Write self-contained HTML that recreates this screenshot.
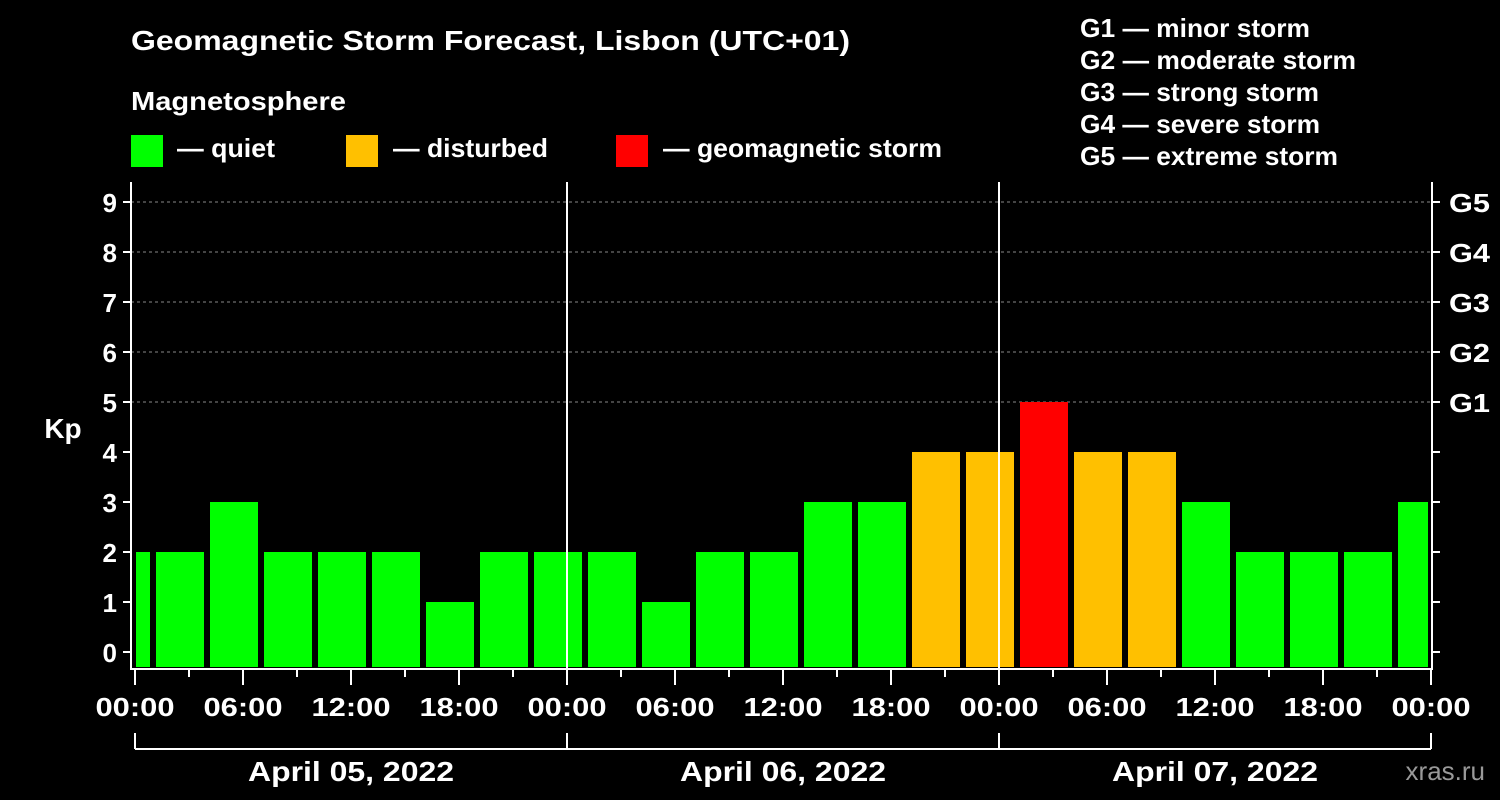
<!DOCTYPE html>
<html><head><meta charset="utf-8"><style>
html,body{margin:0;padding:0;background:#000;}
svg{display:block;font-family:"Liberation Sans",sans-serif;font-weight:bold;}
</style></head><body>
<svg width="1500" height="800" viewBox="0 0 1500 800">
<rect width="1500" height="800" fill="#000"/>
<text x="131" y="50" fill="#fff" font-size="28" textLength="719" lengthAdjust="spacingAndGlyphs">Geomagnetic Storm Forecast, Lisbon (UTC+01)</text>
<text x="131" y="110" fill="#fff" font-size="26" textLength="215" lengthAdjust="spacingAndGlyphs">Magnetosphere</text>
<g><rect x="131" y="135" width="32" height="32" fill="#00ff00"/><text x="177" y="157" fill="#fff" font-size="26" textLength="98" lengthAdjust="spacingAndGlyphs">— quiet</text></g>
<g><rect x="346" y="135" width="32" height="32" fill="#ffc000"/><text x="393" y="157" fill="#fff" font-size="26" textLength="155" lengthAdjust="spacingAndGlyphs">— disturbed</text></g>
<g><rect x="616" y="135" width="32" height="32" fill="#ff0000"/><text x="663" y="157" fill="#fff" font-size="26" textLength="279" lengthAdjust="spacingAndGlyphs">— geomagnetic storm</text></g>
<g fill="#fff" font-size="26">
<text x="1080" y="37" textLength="230" lengthAdjust="spacingAndGlyphs">G1 — minor storm</text>
<text x="1080" y="69" textLength="276" lengthAdjust="spacingAndGlyphs">G2 — moderate storm</text>
<text x="1080" y="101" textLength="239" lengthAdjust="spacingAndGlyphs">G3 — strong storm</text>
<text x="1080" y="133" textLength="240" lengthAdjust="spacingAndGlyphs">G4 — severe storm</text>
<text x="1080" y="165" textLength="258" lengthAdjust="spacingAndGlyphs">G5 — extreme storm</text>
</g>
<text x="63" y="438" fill="#fff" font-size="28" text-anchor="middle">Kp</text>
<text x="1485" y="780" fill="#999" font-size="26" text-anchor="end" font-weight="normal">xras.ru</text>
<g id="plot"></g>
</svg>
<script>
const kpValues=[2,2,3,2,2,2,1,2,2,2,1,2,2,3,3,4,4,5,4,4,3,2,2,2,3];
const barStartHours=[-2,1,4,7,10,13,16,19,22,25,28,31,34,37,40,43,46,49,52,55,58,61,64,67,70];
const yTicks=[0,1,2,3,4,5,6,7,8,9];
const gLabels=["G1","G2","G3","G4","G5"];
const gLevels=[5,6,7,8,9];
const xTickLabels=["00:00","06:00","12:00","18:00","00:00","06:00","12:00","18:00","00:00","06:00","12:00","18:00","00:00"];
const dayLabels=["April 05, 2022","April 06, 2022","April 07, 2022"];
const NS="http://www.w3.org/2000/svg";
const L=131,R=1432,T=182,B=668,X0=135,PXH=18;
const xs=h=>X0+h*PXH;
const ys=v=>652-v*50;
const g=document.getElementById('plot');
function mk(t,a,p){const e=document.createElementNS(NS,t);for(const k in a)e.setAttribute(k,a[k]);(p||g).appendChild(e);return e;}
function col(v){return v>=5?'#ff0000':v>=4?'#ffc000':'#00ff00';}
gLevels.forEach(v=>{const l=mk('line',{x1:L,x2:R,y1:ys(v),y2:ys(v),stroke:'#888','stroke-dasharray':'3,3','stroke-width':1});

});
kpValues.forEach((v,i)=>{let x1=xs(barStartHours[i])+3,x2=xs(barStartHours[i]+3)-3;x1=Math.max(x1,L+5);x2=Math.min(x2,R-4);
const r=mk('rect',{x:x1,y:ys(v),width:x2-x1,height:B-1-ys(v),fill:col(v)});

});
const fr=mk('path',{d:`M${L},${T}V${B+1}H${R}V${T}`,stroke:'#fff','stroke-width':2,fill:'none'});


[24,48].forEach(h=>{const l=mk('line',{x1:xs(h),x2:xs(h),y1:T,y2:B,stroke:'#fff','stroke-width':2});

});
yTicks.forEach(v=>{mk('line',{x1:L-8,x2:L,y1:ys(v),y2:ys(v),stroke:'#fff','stroke-width':2});
mk('line',{x1:R,x2:R+8,y1:ys(v),y2:ys(v),stroke:'#fff','stroke-width':2});
const t=mk('text',{x:L-14,y:ys(v)+10,fill:'#fff','font-size':26,'text-anchor':'end'});t.textContent=v;

});
gLabels.forEach((s,i)=>{const t=mk('text',{x:R+17,y:ys(gLevels[i])+10,fill:'#fff','font-size':26,textLength:41,lengthAdjust:'spacingAndGlyphs'});t.textContent=s;

});
for(let h=0;h<=72;h+=3){const major=h%6===0;mk('line',{x1:xs(h),x2:xs(h),y1:B,y2:B+(major?17:9),stroke:'#fff','stroke-width':2});}
xTickLabels.forEach((s,i)=>{const t=mk('text',{x:xs(i*6),y:716,fill:'#fff','font-size':26,'text-anchor':'middle',textLength:79,lengthAdjust:'spacingAndGlyphs'});t.textContent=s;

});
mk('line',{x1:xs(0),x2:xs(72),y1:749,y2:749,stroke:'#fff','stroke-width':2});
[0,24,48,72].forEach(h=>mk('line',{x1:xs(h),x2:xs(h),y1:733,y2:749,stroke:'#fff','stroke-width':2}));
dayLabels.forEach((s,i)=>{const t=mk('text',{x:xs(i*24+12),y:781,fill:'#fff','font-size':28,'text-anchor':'middle',textLength:206,lengthAdjust:'spacingAndGlyphs'});t.textContent=s;

});
</script>
</body></html>
